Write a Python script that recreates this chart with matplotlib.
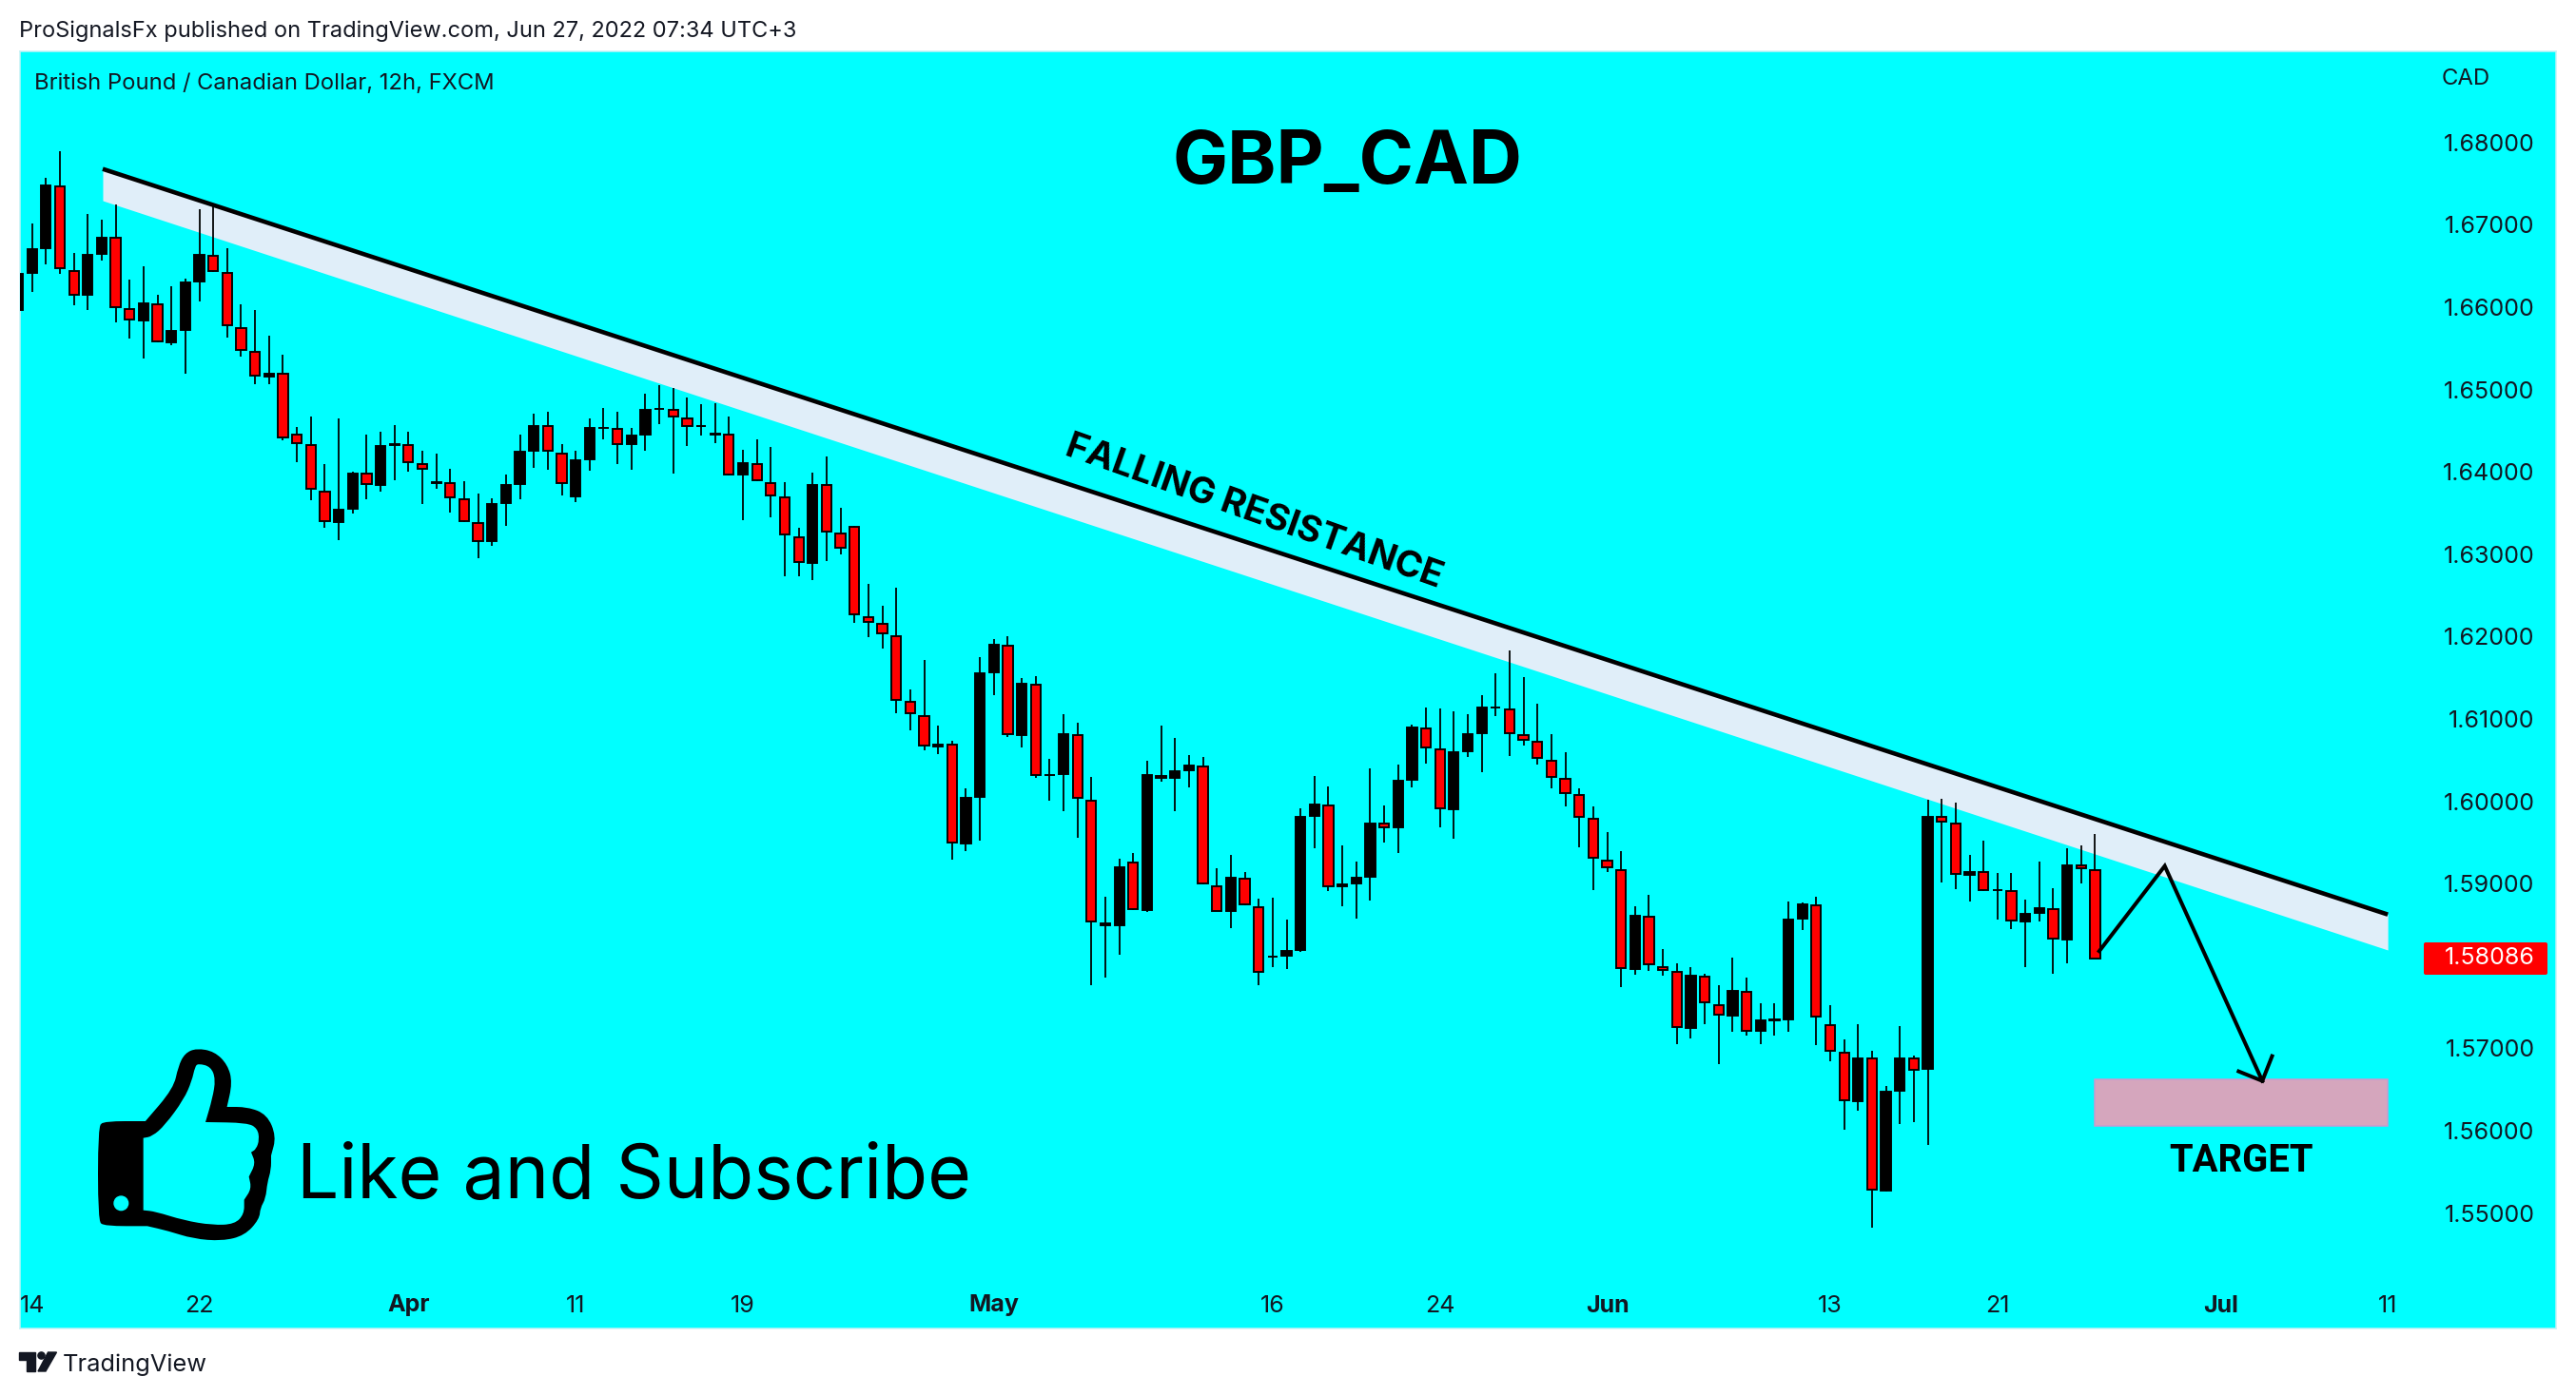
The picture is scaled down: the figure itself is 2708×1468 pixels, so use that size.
import matplotlib
matplotlib.use("Agg")
import matplotlib.pyplot as plt
from matplotlib.path import Path
from matplotlib.patches import PathPatch, Circle, Polygon, Rectangle, FancyBboxPatch

# 12h candles GBP/CAD
opens = [1.65959,1.66409,1.66709,1.67483,1.66455,1.66143,1.6664,1.66848,1.65982,1.65832,
         1.66051,1.65566,1.65716,1.66305,1.6664,1.66421,1.65762,1.65466,1.6515,1.65197,
         1.64469,1.64331,1.63776,1.63384,1.63545,1.63988,1.63834,1.64319,1.64342,1.641,
         1.63857,1.6388,1.63676,1.63395,1.63153,1.63615,1.63846,1.6425,1.64562,1.64238,
         1.63696,1.64146,1.64523,1.64527,1.64331,1.64446,1.64754,1.64769,1.64654,1.64546,
         1.64446,1.64469,1.63954,1.64111,1.6388,1.63696,1.63222,1.62887,1.63846,1.63257,
         1.63338,1.62252,1.6216,1.62021,1.61213,1.61051,1.60658,1.60697,1.5948,1.60046,
         1.61559,1.61905,1.60797,1.61432,1.60312,1.60323,1.6082,1.60023,1.58487,1.58487,
         1.59272,1.58672,1.60323,1.60277,1.60369,1.60439,1.58984,1.5866,1.59076,1.5873,
         1.58106,1.58118,1.58187,1.59815,1.59965,1.58961,1.58995,1.59076,1.59738,1.59676,
         1.60254,1.609,1.60646,1.59896,1.606,1.6082,1.61127,1.61131,1.6082,1.60739,
         1.60508,1.60288,1.60092,1.59803,1.59295,1.5918,1.57956,1.58614,1.58002,1.57944,
         1.5724,1.57887,1.5754,1.5739,1.57702,1.57205,1.57332,1.57344,1.58568,1.58753,
         1.57298,1.56955,1.56351,1.56886,1.55266,1.56478,1.56886,1.56736,1.59816,1.59735,
         1.591,1.59146,1.58907,1.58915,1.58534,1.58638,1.58707,1.58314,1.5923,1.5918]
closes = [1.66413,1.66713,1.67487,1.66459,1.66143,1.66644,1.66852,1.65986,1.65836,1.66055,
          1.6557,1.6572,1.66313,1.66644,1.66424,1.65766,1.65466,1.65154,1.652,1.64404,
          1.64334,1.6378,1.63388,1.63549,1.63992,1.63838,1.64323,1.64346,1.64103,1.64023,
          1.63888,1.63676,1.63395,1.63153,1.63619,1.6385,1.64254,1.64565,1.64242,1.6385,
          1.6415,1.64542,1.64546,1.64331,1.6445,1.64762,1.64777,1.64658,1.6455,1.64569,
          1.64473,1.63954,1.64115,1.63884,1.63699,1.63226,1.62895,1.6385,1.63261,1.63064,
          1.62256,1.62164,1.62025,1.61217,1.61055,1.60662,1.607,1.59484,1.6005,1.61563,
          1.61909,1.60801,1.61436,1.60315,1.60331,1.60824,1.60027,1.58526,1.5853,1.59207,
          1.58676,1.60327,1.60277,1.60373,1.60443,1.58988,1.58664,1.5908,1.58734,1.57914,
          1.58125,1.58191,1.59819,1.59969,1.58964,1.59003,1.5908,1.59738,1.59676,1.60258,
          1.60908,1.60646,1.599,1.60604,1.60823,1.61147,1.61151,1.60823,1.60739,1.60512,
          1.60292,1.60092,1.59807,1.59303,1.59184,1.57964,1.58618,1.5801,1.57948,1.57248,
          1.5789,1.57548,1.57394,1.57706,1.57209,1.57348,1.57363,1.58572,1.58756,1.57375,
          1.56959,1.56355,1.56886,1.5527,1.56482,1.56886,1.56732,1.59819,1.59739,1.59107,
          1.5915,1.58907,1.58919,1.58545,1.58642,1.58711,1.58318,1.5923,1.5918,1.58086]
highs = [1.66651,1.67017,1.67568,1.67891,1.66659,1.67133,1.67063,1.67248,1.66336,1.66498,
         1.66151,1.66255,1.66347,1.6719,1.67248,1.66717,1.66036,1.65966,1.65655,1.65424,
         1.64546,1.64673,1.64096,1.6465,1.64003,1.64454,1.64488,1.64569,1.64488,1.64257,
         1.64223,1.64038,1.63888,1.63738,1.6368,1.63969,1.64454,1.64708,1.64731,1.64338,
         1.64258,1.6465,1.64777,1.64731,1.64535,1.6495,1.65054,1.6502,1.64904,1.64823,
         1.64835,1.64673,1.64269,1.64396,1.64304,1.63877,1.63322,1.63992,1.64188,1.63565,
         1.63342,1.62641,1.62375,1.62595,1.61359,1.61717,1.6092,1.60735,1.60158,1.61751,
         1.61971,1.62005,1.61497,1.6152,1.60516,1.61058,1.60954,1.60296,1.58841,1.59303,
         1.59372,1.60493,1.6092,1.6077,1.60562,1.60539,1.59188,1.59349,1.59142,1.58818,
         1.5883,1.58564,1.59915,1.60308,1.60181,1.59465,1.59269,1.604,1.5995,1.60446,
         1.60931,1.61139,1.61127,1.61093,1.61058,1.61289,1.61555,1.61832,1.61508,1.61185,
         1.60816,1.60596,1.60158,1.59938,1.59626,1.59395,1.58726,1.58864,1.58206,1.58033,
         1.57987,1.57906,1.57767,1.58102,1.5786,1.57548,1.57548,1.58783,1.58772,1.58841,
         1.57525,1.57109,1.57294,1.56971,1.56544,1.57271,1.56913,1.6002,1.60031,1.59985,
         1.5935,1.59523,1.5913,1.5913,1.58807,1.59269,1.58946,1.59431,1.59465,1.59604]
lows = [1.65832,1.66182,1.66524,1.66401,1.66028,1.6597,1.66571,1.6582,1.65624,1.65381,
        1.6557,1.65543,1.65197,1.66074,1.66424,1.65635,1.65404,1.6507,1.6507,1.64388,
        1.64123,1.63661,1.63326,1.63176,1.63499,1.63672,1.63765,1.63903,1.64007,1.63615,
        1.63799,1.63511,1.63395,1.62957,1.63107,1.63349,1.63673,1.64054,1.6403,1.63719,
        1.63638,1.64019,1.644,1.641,1.6403,1.64261,1.64585,1.63984,1.64319,1.64446,
        1.64354,1.63954,1.63418,1.63884,1.63453,1.62737,1.62737,1.62691,1.62922,1.63003,
        1.62171,1.61998,1.6186,1.61074,1.60867,1.60623,1.60577,1.59295,1.59399,1.59526,
        1.61293,1.60785,1.60658,1.60289,1.60011,1.59884,1.59561,1.57771,1.57864,1.58141,
        1.58676,1.5866,1.60242,1.59884,1.60173,1.58988,1.58664,1.58464,1.58734,1.57771,
        1.57991,1.57968,1.58175,1.59434,1.58914,1.5873,1.5858,1.58799,1.59503,1.59376,
        1.60173,1.60462,1.59688,1.59549,1.60542,1.60358,1.61039,1.60554,1.60681,1.6045,
        1.60161,1.59942,1.59445,1.58926,1.59145,1.57748,1.57898,1.57944,1.57887,1.57055,
        1.57124,1.57298,1.56813,1.57205,1.57159,1.57055,1.57159,1.57205,1.58441,1.57044,
        1.56847,1.56016,1.56247,1.54827,1.55266,1.56086,1.56109,1.55832,1.59019,1.58934,
        1.58788,1.58907,1.58568,1.58453,1.57991,1.58545,1.5791,1.58037,1.59007,1.58086]

# ejes
xtick_pos = [1,13,28,40,52,70,90,102,114,130,142,158,170]
xtick_labels = ["14","22","Apr","11","19","May","16","24","Jun","13","21","Jul","11"]
bold_labels = ["Apr","May","Jun","Jul"]
ytick_vals = [1.55,1.56,1.57,1.59,1.60,1.61,1.62,1.63,1.64,1.65,1.66,1.67,1.68]
last_price = 1.58086

# dibujos sobre el grafico
trend_x = [6.07,170]
trend_top = [1.67679,1.58626]
trend_bottom = [1.67294,1.58195]
path_x = [149.3,154.0,161.0]
path_y = [1.58181,1.59215,1.56605]
head_x = [159.3,161.0,161.7]
head_y = [1.56721,1.56605,1.56906]
target_x = [149,170]
target_y = [1.56059,1.56625]

W, H = 2708, 1468
CYAN = "#00FFFF"
INK = "#131722"
plt.rcParams["font.family"] = ["Inter", "DejaVu Sans"]

def px(p):
    return p / 100 * 72

fig = plt.figure(figsize=(W/100, H/100), dpi=100, facecolor="white")
left, right, top, bottom = 20.5, 2687, 54, 1397
ax = fig.add_axes([left/W, 1-bottom/H, (right-left)/W, (bottom-top)/H], facecolor=CYAN)
ax.set_xlim(0.10, 182.07)
ax.set_ylim(1.53599, 1.69107)
for s in ax.spines.values():
    s.set_color("#c4f2f6")
    s.set_linewidth(px(1.5))

# banda bajo la resistencia
ax.fill_between(trend_x, trend_bottom, trend_top, color="#E0EEF9", lw=0, zorder=1)

# velas
edge = 0.0001
xs = range(len(opens))
ax.vlines(xs, lows, highs, color="black", lw=px(1.8), zorder=2)
for i in xs:
    hi = max(opens[i], closes[i]) - edge
    lo = min(opens[i], closes[i]) + edge
    col = "black" if closes[i] >= opens[i] else "#FF0000"
    ax.bar(i, max(hi-lo, 0), bottom=lo, width=0.70, color=col, edgecolor="black", lw=px(1.9), zorder=3)

ax.plot(trend_x, trend_top, color="black", lw=px(4.6), solid_capstyle="butt", zorder=4)
ax.add_patch(Rectangle((target_x[0], target_y[0]), target_x[1]-target_x[0], target_y[1]-target_y[0],
                       facecolor="#D5A6BD", edgecolor="#C79AD0", lw=px(1.5), zorder=1.5))
ax.plot(path_x, path_y, color="black", lw=px(4), solid_joinstyle="miter", zorder=5)
ax.plot(head_x, head_y, color="black", lw=px(4), solid_joinstyle="miter", zorder=5)

ax.set_xticks(xtick_pos)
ax.set_xticklabels(xtick_labels)
ax.set_yticks(ytick_vals)
ax.set_yticklabels(["%.5f" % v for v in ytick_vals])
ax.yaxis.tick_right()
ax.tick_params(axis="y", length=0, pad=-px(22.4), labelsize=px(25), labelcolor=INK)
ax.tick_params(axis="x", length=0, pad=-px(24), labelsize=px(25), labelcolor=INK)
for t in ax.get_yticklabels():
    t.set_ha("right")
for t in ax.get_xticklabels():
    t.set_va("center")
    if t.get_text() in bold_labels:
        t.set_fontweight("bold")

# capa en pixeles para textos e iconos
pix = fig.add_axes([0, 0, 1, 1], facecolor="none")
pix.set_xlim(0, W)
pix.set_ylim(H, 0)
pix.axis("off")

pix.text(20, 33, "ProSignalsFx published on TradingView.com, Jun 27, 2022 07:34 UTC+3",
         fontsize=px(23.6), color=INK, va="center")
pix.text(36, 88.5, "British Pound / Canadian Dollar, 12h, FXCM", fontsize=px(23.75), color=INK, va="center")
pix.text(2592, 83, "CAD", fontsize=px(24), color=INK, va="center", ha="center")
pix.text(1416, 173, "GBP_CAD", fontsize=px(77.6), fontweight="bold", color="black", ha="center", va="center")
pix.text(1318, 539, "FALLING RESISTANCE", fontsize=px(38.5), fontweight="bold", color="black",
         ha="center", va="center", rotation=-19.6, rotation_mode="anchor")
pix.text(2356, 1221, "TARGET", fontsize=px(40), fontweight="bold", color="black", ha="center", va="center",
         family="Roboto")
pix.text(312, 1239, "Like and Subscribe", fontsize=px(78.6), color="black", va="center")

pix.add_patch(FancyBboxPatch((2548, 991), 130, 34, boxstyle="round,pad=0,rounding_size=2",
                             facecolor="#FF0000", edgecolor="none"))
pix.text(2664.6, 1008, "%.5f" % last_price, fontsize=px(25), color="white", ha="right", va="center")

# logo TradingView
pix.add_patch(Polygon([(20,1422),(37,1422),(37,1442),(27.5,1442),(27.5,1430),(20,1430)], color=INK))
pix.add_patch(Circle((43.5,1425.5), 3.6, color=INK))
pix.add_patch(Polygon([(50.5,1422),(59.5,1422),(48,1442),(40,1442)], color=INK))
pix.text(66, 1435, "TradingView", fontsize=px(25.4), color=INK, va="center")

# pulgar, coordenadas de la imagen del icono
def smooth(points):
    verts, codes = [], []
    n = len(points)
    mid = lambda a, b: ((a[0]+b[0])/2, (a[1]+b[1])/2)
    verts.append(mid(points[-1], points[0]))
    codes.append(Path.MOVETO)
    for i in range(n):
        verts += [points[i], mid(points[i], points[(i+1) % n])]
        codes += [Path.CURVE3, Path.CURVE3]
    return Path([(60+x/3, 1080+y/3) for x, y in verts], codes)

hand_out = [(150,300),(280,300),(280,300),(370,195),(385,125),(405,85),(440,70),(495,80),(535,120),
            (550,175),(532,255),(532,255),(600,255),(660,278),(688,345),(672,405),(672,405),(672,450),
            (660,490),(655,540),(638,570),(635,605),(590,655),(520,672),(430,665),(350,640),(285,625),
            (285,625),(150,625),(132,610),(132,315)]
hand_in = [(272,350),(272,350),(300,345),(340,310),(400,228),(425,170),(435,125),(445,115),(485,125),(500,165),
           (490,225),(468,300),(468,300),(600,302),(632,320),(638,355),(628,385),(612,395),(612,395),(626,430),
           (605,472),(605,472),(613,510),(590,545),(590,545),(590,590),(560,622),(490,625),(400,610),(310,582),
           (272,578),(272,578)]
pix.add_patch(PathPatch(smooth(hand_out), facecolor="black", edgecolor="black", lw=px(2)))
pix.add_patch(PathPatch(smooth(hand_in), facecolor=CYAN, edgecolor="none"))
pix.add_patch(Circle((60+202/3, 1080+556/3), 7.3, color=CYAN))

fig.savefig("out.png", dpi=100)
